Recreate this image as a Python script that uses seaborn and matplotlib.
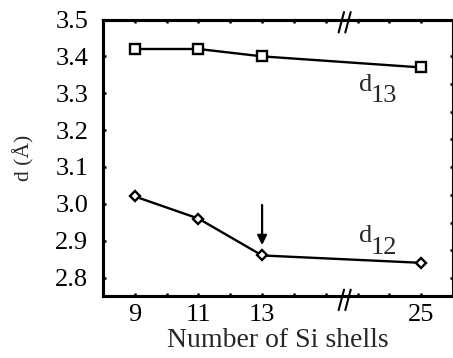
import matplotlib
matplotlib.use("Agg")
import matplotlib.pyplot as plt
import seaborn as sns
import pandas as pd
from matplotlib import transforms

# ---- data ----
shells = [9, 11, 13, 25]
shell_labels = ["9", "11", "13", "25"]
d13 = [3.42, 3.42, 3.40, 3.37]
d12 = [3.02, 2.96, 2.86, 2.84]
y_ticks = [2.8, 2.9, 3.0, 3.1, 3.2, 3.3, 3.4, 3.5]
y_labels = ["2.8", "2.9", "3.0", "3.1", "3.2", "3.3", "3.4", "3.5"]


def axis_pos(n):
    # broken x axis: everything after 13 is shifted so 25 sits at 18
    return n if n <= 13 else n - 7


sns.set_style("ticks")
plt.rcParams['font.family'] = ['Liberation Serif', 'DejaVu Serif']

W, H = 453, 358
fig = plt.figure(figsize=(W / 100, H / 100), dpi=100)
L, R, T, B = 103, 453, 19.5, 296
ax = fig.add_axes([L / W, (H - B) / H, (R - L) / W, (B - T) / H])

pos = [axis_pos(s) for s in shells]
df = pd.DataFrame({"pos": pos, "d13": d13, "d12": d12})

common = dict(color="black", linewidth=1.7, markerfacecolor="white",
              markeredgecolor="black", markeredgewidth=1.7, ax=ax)
sns.lineplot(data=df, x="pos", y="d13", marker="s", markersize=6.5, **common)
sns.lineplot(data=df, x="pos", y="d12", marker="D", markersize=5.5, **common)

ax.set_xlim(8, 19)
ax.set_ylim(2.75, 3.5)

xt = list(range(9, 19))
lab_map = {axis_pos(s): l for s, l in zip(shells, shell_labels)}
ax.set_xticks(xt)
ax.set_xticklabels([lab_map.get(t, "") for t in xt])
ax.set_yticks(y_ticks)
ax.set_yticklabels(y_labels)

ax.tick_params(direction="in", length=2.5, width=1.8, top=True, right=False,
               labelsize=19, color="black", labelcolor="black")
ax.tick_params(axis="y", pad=10.5)
ax.tick_params(axis="x", pad=6)
for sp in ax.spines.values():
    sp.set_linewidth(2.2)
    sp.set_color("black")

ax.set_xlabel("Number of Si shells", fontsize=20, labelpad=1)
ax.set_ylabel("d (Å)", fontsize=15.5, labelpad=15)

# right-hand ticks (separate scale)
ax2 = ax.twinx()
ax2.set_ylim(-0.65, 9.33)
ax2.set_yticks(range(0, 9))
ax2.set_yticklabels([])
ax2.tick_params(direction="in", length=2.5, width=1.8, color="black")
for sp in ax2.spines.values():
    sp.set_linewidth(2.2)
    sp.set_color("black")

# labels
ax.text(16.06, 3.306, "d", fontsize=19, ha="left", va="baseline")
ax.text(16.42, 3.276, "13", fontsize=19, ha="left", va="baseline")
ax.text(16.06, 2.896, "d", fontsize=19, ha="left", va="baseline")
ax.text(16.42, 2.864, "12", fontsize=19, ha="left", va="baseline")

# arrow at 13 shells
ax.annotate("", xy=(axis_pos(13), 2.888), xytext=(axis_pos(13), 2.997),
            arrowprops=dict(arrowstyle="-|>", color="black", lw=1.6,
                            mutation_scale=14, shrinkA=0, shrinkB=0))

# axis-break marks
trans = transforms.blended_transform_factory(ax.transData, ax.transAxes)
dx, dy = 0.085, 0.037
for yc in (0.0 - 0.014, 1.0 - 0.01):
    for xc in (15.49, 15.70):
        ax.plot([xc - dx, xc + dx], [yc - dy, yc + dy], color="black",
                lw=1.5, transform=trans, clip_on=False)

fig.savefig("out.png", dpi=100)
